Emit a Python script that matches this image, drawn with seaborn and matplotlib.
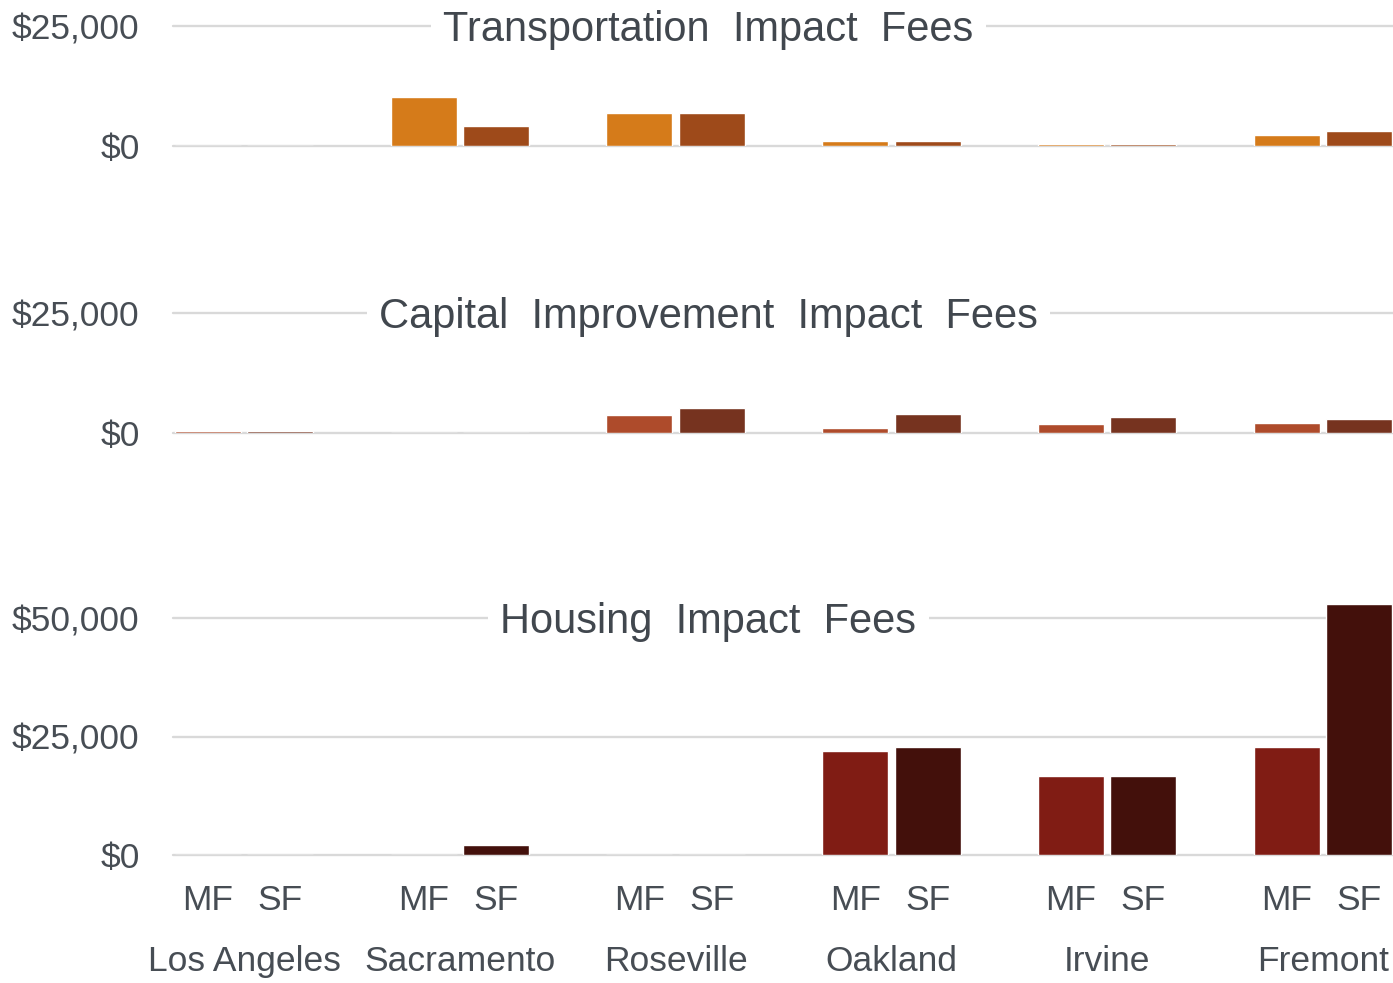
import pandas as pd
import seaborn as sns
import matplotlib.pyplot as plt

# =========================================================
# DATA
# =========================================================

cities = ["Los Angeles", "Sacramento", "Roseville", "Oakland", "Irvine", "Fremont"]
unit_types = ["MF", "SF"]

transport_mf = [0, 10200, 6800, 900, 300, 2150]
transport_sf = [0, 4200, 6800, 900, 300, 3100]

capital_mf = [400, 0, 3750, 1200, 1900, 2150]
capital_sf = [400, 0, 5200, 3950, 3350, 3050]

housing_mf = [0, 0, 0, 21900, 16600, 22800]
housing_sf = [0, 2150, 0, 22800, 16600, 53000]

panel_titles = [
    "Transportation  Impact  Fees",
    "Capital  Improvement  Impact  Fees",
    "Housing  Impact  Fees",
]

# =========================================================
# SETTINGS
# =========================================================

sns.set_theme(style="white")
plt.rcParams["font.family"] = ["Liberation Sans", "DejaVu Sans"]

TEXT = "#474d54"
TITLE = "#41474e"
GRID = "#d9d9d9"

W, H = 1393, 983
fig = plt.figure(figsize=(W / 100, H / 100), dpi=100)


def make_frame(mf, sf):
    return pd.DataFrame({
        "city": cities * 2,
        "type": ["MF"] * len(cities) + ["SF"] * len(cities),
        "fee": list(mf) + list(sf),
    })


panels = [
    # data, colors, top px, bottom px, ylim, ticks, tick labels
    (make_frame(transport_mf, transport_sf), ["#d57b1a", "#9e4a1a"],
     26.5, 145.7, 25000, [0, 25000], ["$0", "$25,000"]),
    (make_frame(capital_mf, capital_sf), ["#ae4b2b", "#76331f"],
     313, 433.3, 25000, [0, 25000], ["$0", "$25,000"]),
    (make_frame(housing_mf, housing_sf), ["#801c14", "#43100b"],
     594.5, 855, 55000, [0, 25000, 50000], ["$0", "$25,000", "$50,000"]),
]

left_px, right_px = 173, 1393
x_lo, x_hi = (173 - 244) / 215.8, (1393 - 244) / 215.8

# =========================================================
# PANELS
# =========================================================

for i, (df, colors, top, bottom, ymax, yt, ytl) in enumerate(panels):

    ax = fig.add_axes([
        left_px / W,
        1 - bottom / H,
        (right_px - left_px) / W,
        (bottom - top) / H,
    ])

    sns.barplot(
        data=df,
        x="city",
        y="fee",
        hue="type",
        hue_order=unit_types,
        order=cities,
        palette=colors,
        width=0.672,
        gap=0.09,
        errorbar=None,
        legend=False,
        saturation=1,
        ax=ax,
        zorder=3,
    )

    ax.set_xlim(x_lo, x_hi)
    ax.set_ylim(0, ymax)
    ax.set_yticks(yt, ytl)
    ax.set_xlabel("")
    ax.set_ylabel("")

    for s in ax.spines.values():
        s.set_visible(False)

    ax.grid(axis="y", color=GRID, linewidth=1.7)
    ax.grid(axis="x", visible=False)
    ax.set_axisbelow(True)
    for line in ax.get_ygridlines():
        line.set_clip_on(False)

    ax.tick_params(axis="y", length=0, pad=24, labelsize=25.5, labelcolor=TEXT)
    ax.tick_params(axis="x", which="both", length=0)

    # title sitting on the top gridline
    ax.annotate(
        panel_titles[i],
        xy=(708.5 / W, yt[-1]),
        xycoords=("figure fraction", "data"),
        xytext=(0, -10.6),
        textcoords="offset points",
        ha="center",
        va="baseline",
        fontsize=30,
        color=TITLE,
        bbox=dict(boxstyle="square,pad=0.3", fc="white", ec="none"),
        zorder=5,
        annotation_clip=False,
    )

    if i < 2:
        ax.tick_params(axis="x", labelbottom=False)
        ax.set_xticks([])
    else:
        centers = sorted(p.get_x() + p.get_width() / 2 for p in ax.patches)
        ax.set_xticks(range(len(cities)), cities)
        ax.set_xticks(centers, unit_types * len(cities), minor=True)
        ax.tick_params(axis="x", which="major", pad=65, labelsize=25.5, labelcolor=TEXT)
        ax.tick_params(axis="x", which="minor", pad=21, labelsize=25.5, labelcolor=TEXT)

plt.savefig("out.png", dpi=100)
